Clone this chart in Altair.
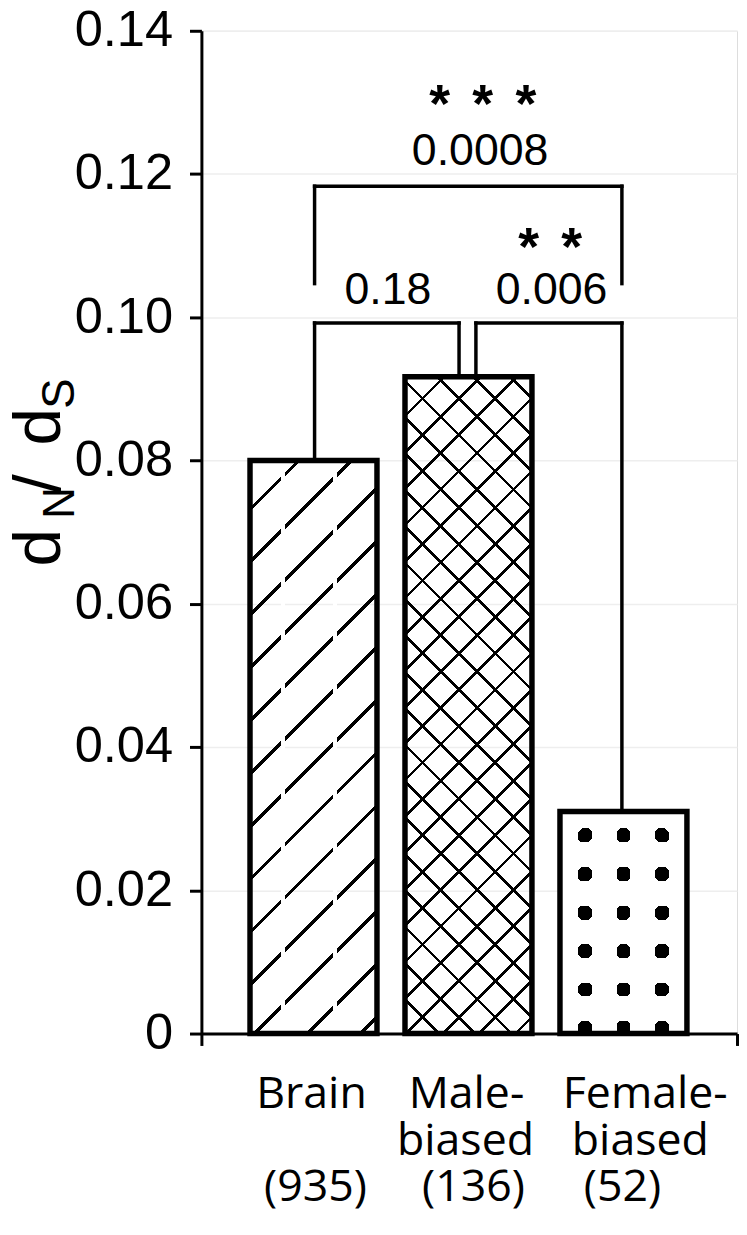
import math
import altair as alt
import pandas as pd

# ---------------- data ----------------
categories = ["Brain", "Male-biased", "Female-biased"]
label_line1 = ["Brain", "Male-", "Female-"]
label_line2 = ["", "biased", "biased"]
gene_counts = [935, 136, 52]
dnds_values = [0.080, 0.0917, 0.031]

# significance brackets: (left index, right index, p-value text, stars)
bracket_left = [0, 1, 0]
bracket_right = [1, 2, 2]
bracket_p = ["0.18", "0.006", "0.0008"]
bracket_stars = ["", "**", "***"]
y_ticks = [0, 0.02, 0.04, 0.06, 0.08, 0.10, 0.12, 0.14]

# ---------------- layout ----------------
PLOT_W, PLOT_H, Y_MAX = 540, 1011, 0.14
STEP, FIRST_C = 156.25, 113.0          # px between bar centres, first centre from left
X_DOM = [-FIRST_C / STEP, (PLOT_W - FIRST_C) / STEP]
BAR_W = 128.0
HALF = BAR_W / 2 / STEP
PX_PER_Y = PLOT_H / Y_MAX
TRANSP, WHITE, BLACK = "rgba(255,255,255,0)", "#ffffff", "#000000"

xscale = alt.Scale(domain=X_DOM, nice=False, zero=False)
yscale = alt.Scale(domain=[0, Y_MAX], nice=False, zero=True)
xaxis = alt.Axis(values=X_DOM, labels=False, tickSize=12, tickWidth=3, tickColor="black",
                 domainWidth=3, domainColor="black", grid=False, title=None)
yaxis = alt.Axis(values=y_ticks, labelExpr="datum.value == 0 ? '0' : format(datum.value, '.2f')",
                 tickSize=12, tickWidth=3, tickColor="black", domainWidth=3, domainColor="black",
                 labelFont="Liberation Sans Narrow, Arial Narrow, Liberation Sans, Arial, sans-serif",
                 labelFontSize=51, labelColor="black",
                 labelPadding=17, grid=True, gridColor="#eeeeee", gridWidth=1.5, title=None)


def X(f):
    return alt.X(f, type="quantitative", scale=xscale, axis=xaxis)


def Y(f):
    return alt.Y(f, type="quantitative", scale=yscale, axis=yaxis)


bars = pd.DataFrame({
    "category": categories,
    "x0": [i - HALF for i in range(3)],
    "x1": [i + HALF for i in range(3)],
    "value": dnds_values,
    "zero": [0.0] * 3,
})


# ---------------- pattern fills (gradients) ----------------
def band_stops(centers, half, total, ink, base):
    ivs = sorted((c - half, c + half) for c in centers)
    merged = []
    for a, b in ivs:
        a, b = max(a, 0.0), min(b, total)
        if b <= a:
            continue
        if merged and a <= merged[-1][1]:
            merged[-1][1] = max(merged[-1][1], b)
        else:
            merged.append([a, b])
    stops = [{"offset": 0, "color": base}]
    for a, b in merged:
        stops += [{"offset": round(a / total, 5), "color": base},
                  {"offset": round(a / total, 5), "color": ink},
                  {"offset": round(b / total, 5), "color": ink},
                  {"offset": round(b / total, 5), "color": base}]
    stops.append({"offset": 1, "color": base})
    return stops


def periodic(phase, period, lo, hi):
    k0 = math.floor((lo - phase) / period) - 1
    k1 = math.ceil((hi - phase) / period) + 1
    return [phase + k * period for k in range(k0, k1 + 1)]


def grad(kind, w, h, stops):
    if kind == "x":
        return {"gradient": "linear", "x1": 0, "y1": 0, "x2": 1, "y2": 0, "stops": stops}
    if kind == "y":
        return {"gradient": "linear", "x1": 0, "y1": 0, "x2": 0, "y2": 1, "stops": stops}
    k = (w + h) / (w * w + h * h)
    if kind == "up":      # isolines x'+y' = const  ("/")
        return {"gradient": "linear", "x1": 0, "y1": 0, "x2": w * k, "y2": h * k, "stops": stops}
    # "down": isolines x'-y' = const ("\"), param = x'-y'+h
    return {"gradient": "linear", "x1": 0, "y1": 1, "x2": w * k, "y2": 1 - h * k, "stops": stops}


def bar_layer(cat, fill):
    return (alt.Chart(bars).transform_filter(alt.datum.category == cat)
            .mark_rect(fill=fill, strokeWidth=0)
            .encode(x=X("x0"), x2="x1", y=Y("value"), y2="zero"))


layers = []

# Brain: dashed "/" hatching
w = BAR_W
h = dnds_values[0] * PX_PER_Y
T = w + h
s_centers = periodic(49.3, 53.3, 0, T)
layers.append(bar_layer("Brain", grad("up", w, h, band_stops(s_centers, 2.4, T, BLACK, TRANSP))))
layers.append(bar_layer("Brain", grad("x", w, h, band_stops([33.0, 85.5], 1.8, w, WHITE, TRANSP))))

# Male-biased: cross hatching
h = dnds_values[1] * PX_PER_Y
T = w + h
up_c = periodic(2.8, 36.7, 0, T)
dn_c = [c + h for c in periodic(-4.3, 36.7, -h, w)]
layers.append(bar_layer("Male-biased", grad("up", w, h, band_stops(up_c, 1.9, T, BLACK, TRANSP))))
layers.append(bar_layer("Male-biased", grad("down", w, h, band_stops(dn_c, 1.9, T, BLACK, TRANSP))))

# Female-biased: dots (black base, white masks leave octagonal dots)
h = dnds_values[2] * PX_PER_Y
T = w + h
cols = [25.5, 64.0, 102.5]
rows = [23.75, 63.0, 102.75, 141.0, 179.5, 217.75]
r = 7.0
layers.append(bar_layer("Female-biased", BLACK))
layers.append(bar_layer("Female-biased", grad("y", w, h, band_stops(rows, r, h, TRANSP, WHITE))))
layers.append(bar_layer("Female-biased", grad("x", w, h, band_stops(cols, r, w, TRANSP, WHITE))))
sums = [c + q for c in cols for q in rows]
diffs = [c - q + h for c in cols for q in rows]
layers.append(bar_layer("Female-biased", grad("up", w, h, band_stops(sums, r * 1.45, T, TRANSP, WHITE))))
layers.append(bar_layer("Female-biased", grad("down", w, h, band_stops(diffs, r * 1.45, T, TRANSP, WHITE))))

# bar outlines
layers.append(alt.Chart(bars).mark_rect(fillOpacity=0, stroke="black", strokeWidth=5.5)
              .encode(x=X("x0"), x2="x1", y=Y("value"), y2="zero"))

# ---------------- brackets ----------------
PAIR_Y, WIDE_Y, WIDE_LEG = 0.0992, 0.1183, 0.1047
leg_x = {  # leg x positions (index units) for each bracket end
    (0, "L"): 0.007, (0, "R"): 1 - 9.5 / STEP,
    (1, "L"): 1 + 7.5 / STEP, (1, "R"): 1.99,
    (2, "L"): 0.007, (2, "R"): 1.99,
}
segs = []
for b, (li, ri) in enumerate(zip(bracket_left, bracket_right)):
    xl, xr = leg_x[(b, "L")], leg_x[(b, "R")]
    if b < 2:
        top, yl, yr = PAIR_Y, dnds_values[li], dnds_values[ri]
    else:
        top, yl, yr = WIDE_Y, WIDE_LEG, WIDE_LEG
    segs += [dict(x=xl, x2=xl, y=yl, y2=top), dict(x=xl, x2=xr, y=top, y2=top),
             dict(x=xr, x2=xr, y=yr, y2=top)]
layers.append(alt.Chart(pd.DataFrame(segs)).mark_rule(color="black", strokeWidth=3.5, strokeCap="square")
              .encode(x=X("x"), x2="x2", y=Y("y"), y2="y2"))

# p-values and stars
ptext = pd.DataFrame({"t": bracket_p, "x": [0.48, 1.536, 1.075], "y": [0.1019, 0.1019, 0.1213]})
layers.append(alt.Chart(ptext).mark_text(font="Liberation Sans", fontSize=45, color="black",
                                         align="center", baseline="alphabetic")
              .encode(x=X("x"), y=Y("y"), text="t:N"))
star_rows = []
for b, s in enumerate(bracket_stars):
    if not s:
        continue
    cx, yb = (1.527, 0.1073) if b == 1 else (1.092, 0.1273)
    n = len(s)
    for j in range(n):
        star_rows.append(dict(t="*", x=cx + (j - (n - 1) / 2) * 43.5 / STEP, y=yb))
layers.append(alt.Chart(pd.DataFrame(star_rows)).mark_text(font="Liberation Sans", fontSize=54,
                                                           fontWeight="bold", color="black",
                                                           align="center", baseline="alphabetic")
              .encode(x=X("x"), y=Y("y"), text="t:N"))

# ---------------- category labels ----------------
nudge = [[-2, -2, 22], [0, -3, 17], [2, 5, -1]]
line_y = [1086, 1133, 1180]
lab_rows = []
for i in range(3):
    texts = [label_line1[i], label_line2[i], f"({gene_counts[i]})"]
    for ln in range(3):
        if texts[ln]:
            lab_rows.append(dict(t=texts[ln], x=i + nudge[ln][i] / STEP, line=ln))
labdf = pd.DataFrame(lab_rows)
for ln in range(3):
    layers.append(alt.Chart(labdf).transform_filter(alt.datum.line == ln)
                  .mark_text(font="Open Sans", fontSize=45, color="black", align="center",
                             baseline="alphabetic")
                  .encode(x=X("x"), y=alt.value(line_y[ln]), text="t:N"))

# ---------------- y title  d_N / d_S ----------------
title_parts = [("d", 68, -143, 540), ("N", 44, -128, 492), ("/", 68, -143, 466),
               ("d", 68, -143, 418), ("S", 46, -128, 381)]
for t, fs, px, py in title_parts:
    layers.append(alt.Chart(alt.Data(values=[{"t": t}]))
                  .mark_text(font="Liberation Sans", fontSize=fs, color="black", angle=270,
                             align="left", baseline="alphabetic")
                  .encode(x=alt.value(px), y=alt.value(py), text="t:N"))

chart = (alt.layer(*layers)
         .properties(width=PLOT_W, height=PLOT_H,
                     autosize=alt.AutoSizeParams(type="none"),
                     padding={"left": 195, "top": 18, "right": 2, "bottom": 182})
         .configure_view(stroke="black", strokeWidth=3)
         .configure(background="white"))

chart.save("out.html", embed_options={"renderer": "svg", "actions": False})
